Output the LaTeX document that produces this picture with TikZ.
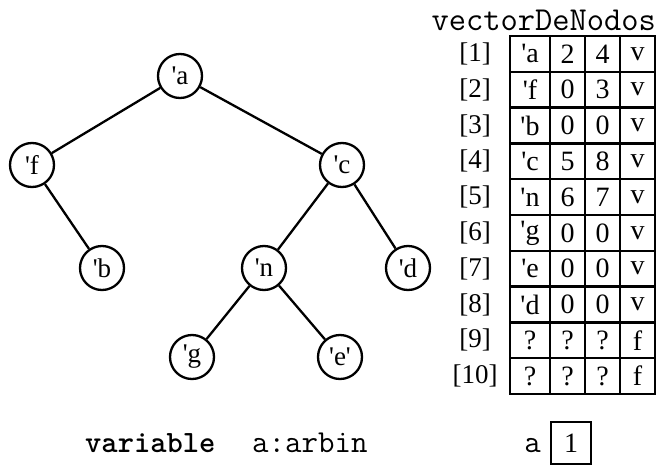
\documentclass[tikz,border=0pt]{standalone}
\usepackage{fontspec}
\setmainfont{Liberation Serif}
\newcommand\qt{\textquotesingle}
\begin{document}
\begin{tikzpicture}[x=1pt,y=-1pt,
  tn/.style={circle,draw,line width=2.3pt,minimum size=44pt,inner sep=0pt,font=\fontsize{27}{27}\selectfont},
  edge/.style={line width=2.3pt},
  cell/.style={draw,line width=2.3pt,minimum height=35.8pt,inner sep=0pt,font=\fontsize{28}{28}\selectfont},
  idx/.style={inner sep=0pt,font=\fontsize{27}{27}\selectfont},
  mono/.style={inner sep=0pt,font=\ttfamily\fontsize{32}{32}\selectfont}]
\useasboundingbox (0,0) rectangle (662,466);
\node[tn] (a) at (180,76) {\qt a};
\node[tn] (f) at (32,165) {\qt f};
\node[tn] (c) at (342,165) {\qt c};
\node[tn] (b) at (102,268) {\qt b};
\node[tn] (n) at (264,268) {\qt n};
\node[tn] (d) at (408,268) {\qt d};
\node[tn] (g) at (192,357) {\qt g};
\node[tn] (e) at (340,357) {\qt e\qt};
\draw[edge] (a) -- (f);
\draw[edge] (a) -- (c);
\draw[edge] (f) -- (b);
\draw[edge] (c) -- (n);
\draw[edge] (c) -- (d);
\draw[edge] (n) -- (g);
\draw[edge] (n) -- (e);
\node[mono,anchor=base east,font=\ttfamily\fontsize{33.5}{33.5}\selectfont] (title) at (656,30) {vectorDeNodos};
\foreach \i/\p/\q/\r/\s in {1/\qt a/2/4/v,2/\qt f/0/3/v,3/\qt b/0/0/v,4/\qt c/5/8/v,5/\qt n/6/7/v,6/\qt g/0/0/v,7/\qt e/0/0/v,8/\qt d/0/0/v,9/?/?/?/f,10/?/?/?/f}{
  \pgfmathsetmacro{\yy}{36+35.8*(\i-0.5)}
  \node[idx] (l\i) at (475,\yy) {[\i]};
  \node[cell,minimum width=40pt] (c\i a) at (530,\yy) {\p};
  \node[cell,minimum width=35pt] (c\i b) at (567.5,\yy) {\q};
  \node[cell,minimum width=35pt] (c\i c) at (602.5,\yy) {\r};
  \node[cell,minimum width=35pt] (c\i d) at (637.5,\yy) {\s};
}
\node[mono,anchor=base west,font=\ttfamily\bfseries\fontsize{31}{31}\selectfont] (var) at (85,452) {variable};
\node[mono,anchor=base west] (ty) at (252,452) {a:arbin};
\node[mono,anchor=base east] (av) at (541,452) {a};
\node[cell,minimum width=40pt,minimum height=42pt] (ab) at (571,443) {1};
\end{tikzpicture}
\end{document}
